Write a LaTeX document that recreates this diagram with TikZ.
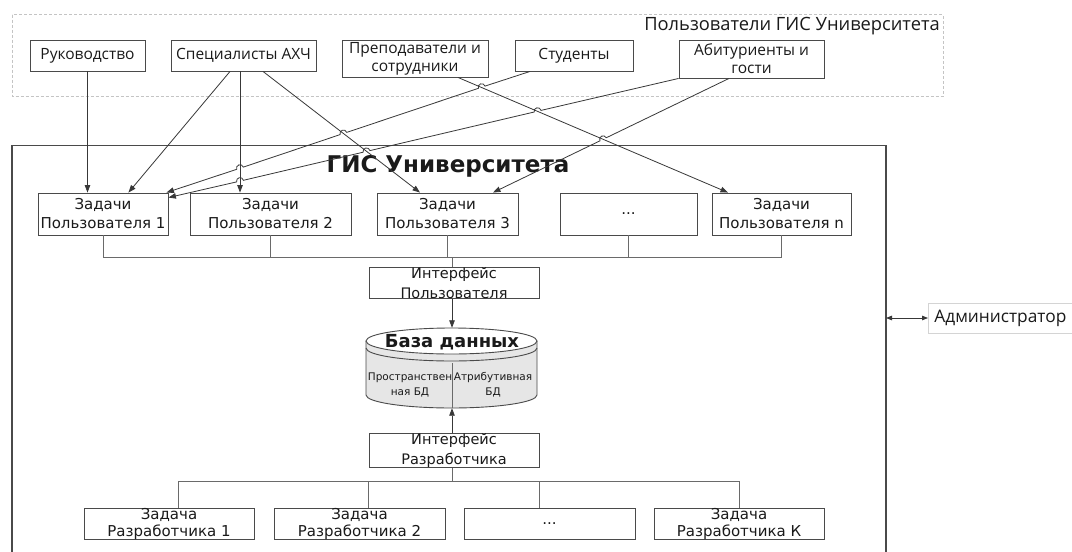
\documentclass[tikz,border=0pt]{standalone}
\usepackage{fontspec}
\setmainfont{DejaVu Sans}
\newfontfamily\osf{Open Sans}
\usetikzlibrary{arrows.meta,calc}
\definecolor{linec}{HTML}{383838}
\definecolor{boxc}{HTML}{4A4A4A}
\definecolor{busc}{HTML}{6A6A6A}
\definecolor{txtc}{HTML}{1A1A1A}
\definecolor{dashc}{HTML}{C4C4C4}
\definecolor{admc}{HTML}{D4D4D4}
\definecolor{dbfill}{HTML}{E6E6E6}
\begin{document}
\begin{tikzpicture}[x=1pt,y=-1pt,
  box/.style={draw=boxc, line width=0.9pt, inner sep=0pt, align=center, text=txtc},
  topbox/.style={box, font=\osf\fontsize{15.5}{18}\selectfont},
  midbox/.style={box, font=\fontsize{15}{19}\selectfont, minimum height=42},
  devbox/.style={box, font=\fontsize{15}{17.5}\selectfont, minimum height=31},
  ifbox/.style={box, font=\fontsize{14.5}{20}\selectfont, minimum width=170},
  arr/.style={draw=linec, line width=0.8pt, -{Triangle[length=7.5pt,width=5.5pt]}},
  bus/.style={draw=busc, line width=0.8pt}]
\useasboundingbox (0,0) rectangle (1072,552);
\fill[white] (0,0) rectangle (1072,552);

% users group
\draw[draw=dashc, line width=0.8pt, dash pattern=on 3pt off 2pt] (12,14.5) rectangle (943,96);
\node[anchor=east, text=txtc, font=\osf\fontsize{18.3}{20}\selectfont, inner sep=0pt] (glab) at (940,26) {Пользователи ГИС Университета};

\node[topbox, minimum width=115, minimum height=31] (ruk) at (87.5,55.5) {Руководство};
\node[topbox, minimum width=145, minimum height=31] (spec) at (243.5,55.5) {Специалисты АХЧ};
\node[topbox, minimum width=146, minimum height=37] (prep) at (415,58.5) {Преподаватели и\\сотрудники};
\node[topbox, minimum width=118, minimum height=31] (stud) at (574,55.5) {Студенты};
\node[topbox, minimum width=145, minimum height=38] (abit) at (751.5,59) {Абитуриенты и\\гости};

% GIS main frame
\draw[draw=boxc, line width=1.1pt] (12,560) -- (12,145.5) -- (886,145.5) -- (886,560);
\node[text=txtc, font=\bfseries\fontsize{23}{26}\selectfont, inner sep=0pt] (title) at (448,166) {ГИС Университета};

\node[midbox, minimum width=130] (u1) at (103,214) {Задачи\\Пользователя 1};
\node[midbox, minimum width=161] (u2) at (270.5,214) {Задачи\\Пользователя 2};
\node[midbox, minimum width=141] (u3) at (447.5,214) {Задачи\\Пользователя 3};
\node[midbox, minimum width=137] (ud) at (628.5,214) {...};
\node[midbox, minimum width=139] (un) at (781.5,214) {Задачи\\Пользователя n};

% arrows users -> tasks
\draw[arr] (ruk.south) -- (ruk.south |- u1.north);
\draw[arr] ([xshift=-13.5pt]spec.south) -- ([xshift=-40pt]u1.north east);
\draw[arr] ([xshift=-3.5pt]spec.south) -- ([xshift=-3.5pt]spec.south |- u2.north);
\draw[arr] ([xshift=19.5pt]spec.south) -- ([xshift=-27.5pt]u3.north);
\draw[arr] ([xshift=43pt]prep.south) -- ([xshift=-53.5pt]un.north);
% lines with line jumps
\draw[arr] ([xshift=-44pt]stud.south)
  -- ($(481.7,87.2)+(18.53:3.5pt)$) arc[start angle=18.53,end angle=198.53,radius=3.5pt]
  -- ($(343.4,133.5)+(18.53:3.5pt)$) arc[start angle=18.53,end angle=198.53,radius=3.5pt]
  -- ($(240,168.2)+(18.53:3.5pt)$) arc[start angle=18.53,end angle=198.53,radius=3.5pt]
  -- ([xshift=-2pt]u1.north east);
\draw[arr] (abit.south west)
  -- ($(537.6,111.2)+(13.21:3.5pt)$) arc[start angle=13.21,end angle=193.21,radius=3.5pt]
  -- ($(366.5,151.4)+(13.21:3.5pt)$) arc[start angle=13.21,end angle=193.21,radius=3.5pt]
  -- ($(240,181.1)+(13.21:3.5pt)$) arc[start angle=13.21,end angle=193.21,radius=3.5pt]
  -- ([yshift=-5pt]u1.north east);
\draw[arr] ([xshift=-22.5pt]abit.south)
  -- ($(603.1,139.3)+(25.98:3.5pt)$) arc[start angle=25.98,end angle=205.98,radius=3.5pt]
  -- ([xshift=45.5pt]u3.north);

% user bus
\coordinate (bu) at (452,257);
\node[ifbox, minimum height=30] (iu) at (454,283) {Интерфейс\\Пользователя};
\draw[bus] (u1.south) -- (u1.south |- bu) -- (un.south |- bu) -- (un.south);
\draw[bus] (u2.south) -- (u2.south |- bu);
\draw[bus] (u3.south) -- (u3.south |- bu);
\draw[bus] (ud.south) -- (ud.south |- bu);
\draw[bus] (bu) -- (bu |- iu.north);

% database
\fill[dbfill] (366,341) -- (366,395) arc[start angle=180,end angle=360,x radius=85.5pt,y radius=13pt] -- (537,341) arc[start angle=0,end angle=180,x radius=85.5pt,y radius=13pt] -- cycle;
\fill[white] (451.5,341) ellipse[x radius=85.5pt,y radius=13pt];
\draw[boxc, line width=0.9pt] (366,341) -- (366,395) arc[start angle=180,end angle=360,x radius=85.5pt,y radius=13pt] -- (537,341);
\draw[boxc, line width=0.9pt] (451.5,341) ellipse[x radius=85.5pt,y radius=13pt];
\draw[boxc, line width=0.9pt] (366,348) arc[start angle=180,end angle=360,x radius=85.5pt,y radius=13pt];
\node[minimum width=171, minimum height=80, inner sep=0pt] (db) at (452,368) {};
\node[text=txtc, font=\bfseries\fontsize{18}{20}\selectfont, inner sep=0pt] (dbt) at (452,342) {База данных};
\draw[busc, line width=0.8pt] (452,363) -- (db.south);
\node[text=txtc, font=\fontsize{10.5}{15}\selectfont, align=center, inner sep=0pt] (spat) at (410,385) {Пространствен\\ная БД};
\node[text=txtc, font=\fontsize{10.5}{15}\selectfont, align=center, inner sep=0pt] (attr) at (493,385) {Атрибутивная\\БД};

\draw[arr] ([xshift=-2pt]iu.south) -- (db.north);

% developer side
\node[ifbox, minimum height=31] (ir) at (454,450.5) {Интерфейс\\Разработчика};
\draw[arr] ([xshift=-2pt]ir.north) -- (db.south);

\coordinate (bd) at (452,481);
\node[devbox, minimum width=170] (d1) at (169,524) {Задача\\Разработчика 1};
\node[devbox, minimum width=171] (d2) at (359.5,524) {Задача\\Разработчика 2};
\node[devbox, minimum width=171] (dd) at (549.5,524) {...};
\node[devbox, minimum width=170] (dk) at (739,524) {Задача\\Разработчика К};
\draw[bus] (bd |- ir.south) -- (bd);
\draw[bus] ([xshift=9pt]d1.north) -- ([xshift=9pt]d1.north |- bd) -- (dk.north |- bd) -- (dk.north);
\draw[bus] ([xshift=8.5pt]d2.north) -- ([xshift=8.5pt]d2.north |- bd);
\draw[bus] ([xshift=-10.5pt]dd.north) -- ([xshift=-10.5pt]dd.north |- bd);

% administrator
\coordinate (admL) at (886,318);
\node[anchor=west, draw=admc, line width=0.8pt, minimum height=30, inner xsep=6pt, text=txtc, font=\osf\fontsize{17.3}{19}\selectfont] (adm) at (928,318) {Администратор};
\draw[draw=linec, line width=0.8pt, {Triangle[length=6pt,width=4.5pt]}-{Triangle[length=6pt,width=4.5pt]}] (admL) -- (adm.west);
\end{tikzpicture}
\end{document}
